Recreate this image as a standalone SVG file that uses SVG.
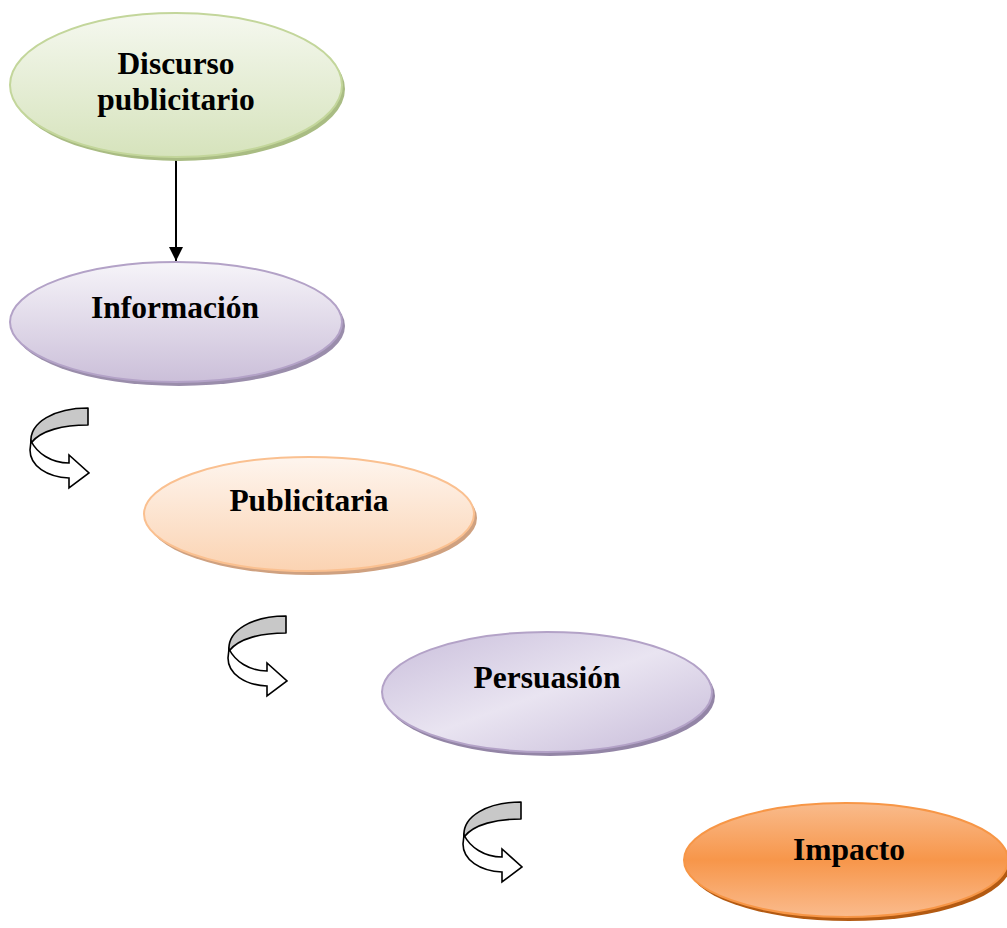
<svg xmlns="http://www.w3.org/2000/svg" xmlns:xlink="http://www.w3.org/1999/xlink" width="1007" height="928" viewBox="0 0 1007 928">
  <style>
    .label { font-family: "Liberation Serif", "Times New Roman", serif; font-weight: bold; font-size: 31.5px; fill: #000; text-anchor: middle; }
    .shadow { stroke: none; }
    .conn { stroke: #000; stroke-width: 2; fill: none; }
    .turn-top { fill: #c8c8c8; stroke: #000; stroke-width: 1.6; stroke-linejoin: round; }
    .turn-band { fill: #fff; stroke: #000; stroke-width: 1.6; stroke-linejoin: miter; }
  </style>
  <defs>
    <linearGradient id="gGreen" x1="0" y1="0" x2="0" y2="1">
      <stop offset="0" stop-color="#f5f8ef"/>
      <stop offset="1" stop-color="#d6e3bc"/>
    </linearGradient>
    <linearGradient id="gPurple" x1="0" y1="0" x2="0" y2="1">
      <stop offset="0" stop-color="#f6f4f9"/>
      <stop offset="1" stop-color="#cbbfd9"/>
    </linearGradient>
    <linearGradient id="gPeach" x1="0" y1="0" x2="0" y2="1">
      <stop offset="0" stop-color="#fef5ee"/>
      <stop offset="1" stop-color="#fbd3b2"/>
    </linearGradient>
    <linearGradient id="gDiag" x1="0" y1="0" x2="1" y2="1">
      <stop offset="0" stop-color="#c9bedb"/>
      <stop offset="0.5" stop-color="#e9e4f1"/>
      <stop offset="1" stop-color="#c6bad8"/>
    </linearGradient>
    <linearGradient id="gOrange" x1="0" y1="0" x2="0" y2="1">
      <stop offset="0" stop-color="#f9bb8c"/>
      <stop offset="0.5" stop-color="#f7964a"/>
      <stop offset="1" stop-color="#fabb8d"/>
    </linearGradient>
    <marker id="arrowHead" viewBox="0 0 10 10" refX="10" refY="5" markerWidth="7" markerHeight="7" markerUnits="strokeWidth" orient="auto">
      <path d="M0,0 L10,5 L0,10 Z" fill="#000"/>
    </marker>
    <!-- U-turn block arrow, origin at the top-left of its box -->
    <g id="uturn">
      <path class="turn-top" d="M59,0 L59,17 C35,17 12,22 2,35 C0,14 26,0 59,0 Z"/>
      <path class="turn-band" d="M2,33 C8,45 22,55 40,55 L40,47 L60,65 L40,80 L40,70 C18,69 1,58 1,42 Z"/>
    </g>
  </defs>

  <g id="connectors">
    <line class="conn" x1="176" y1="160" x2="176" y2="261" marker-end="url(#arrowHead)"/>
    <use xlink:href="#uturn" x="29" y="408"/>
    <use xlink:href="#uturn" x="227" y="616"/>
    <use xlink:href="#uturn" x="462" y="802"/>
  </g>

  <g id="node-discurso">
    <ellipse class="shadow" cx="179" cy="89" rx="166" ry="72" fill="#a9bc83"/>
    <ellipse cx="176" cy="85" rx="166" ry="72" fill="url(#gGreen)" stroke="#c3d69b" stroke-width="2"/>
    <text class="label" x="176" y="74">Discurso</text>
    <text class="label" x="176" y="110">publicitario</text>
  </g>

  <g id="node-informacion">
    <ellipse class="shadow" cx="179" cy="326" rx="166" ry="60" fill="#9a8dab"/>
    <ellipse cx="176" cy="322" rx="166" ry="60" fill="url(#gPurple)" stroke="#b3a2c7" stroke-width="2"/>
    <text class="label" x="175" y="318">Información</text>
  </g>

  <g id="node-publicitaria">
    <ellipse class="shadow" cx="312" cy="518" rx="165" ry="57" fill="#cfa180"/>
    <ellipse cx="309" cy="514" rx="165" ry="57" fill="url(#gPeach)" stroke="#fac090" stroke-width="2"/>
    <text class="label" x="309" y="511">Publicitaria</text>
  </g>

  <g id="node-persuasion">
    <ellipse class="shadow" cx="550" cy="696" rx="165" ry="60" fill="#9385a6"/>
    <ellipse cx="547" cy="692" rx="165" ry="60" fill="url(#gDiag)" stroke="#b3a2c7" stroke-width="2"/>
    <text class="label" x="547" y="688">Persuasión</text>
  </g>

  <g id="node-impacto">
    <ellipse class="shadow" cx="849" cy="864" rx="162" ry="57" fill="#b35a12"/>
    <ellipse cx="846" cy="860" rx="162" ry="57" fill="url(#gOrange)" stroke="#f79646" stroke-width="2"/>
    <text class="label" x="849" y="860">Impacto</text>
  </g>
</svg>
